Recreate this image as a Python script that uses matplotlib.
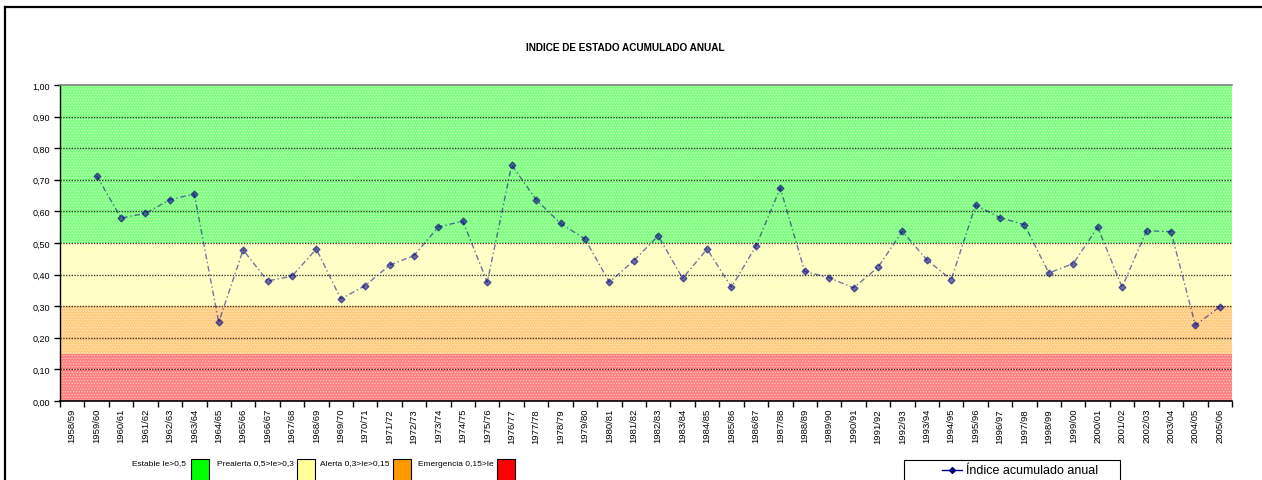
import numpy as np
import matplotlib
matplotlib.use("Agg")
import matplotlib.pyplot as plt
from matplotlib.patches import Rectangle
from matplotlib.lines import Line2D

plt.rcParams['font.family'] = ['Liberation Sans', 'DejaVu Sans']
plt.rcParams['hatch.linewidth'] = 0.6

# Hydrological years
seasons = [f"{y}/{str(y + 1)[-2:]}" for y in range(1958, 2006)]

# Accumulated annual state index (no value for the first season)
indice = [np.nan,
          0.713, 0.579, 0.594, 0.637, 0.655, 0.249, 0.478, 0.380, 0.395, 0.481,
          0.323, 0.365, 0.430, 0.460, 0.551, 0.569, 0.376, 0.747, 0.637, 0.562,
          0.513, 0.376, 0.444, 0.523, 0.388, 0.481, 0.360, 0.490, 0.674, 0.410,
          0.390, 0.358, 0.423, 0.537, 0.447, 0.384, 0.620, 0.580, 0.558, 0.405,
          0.435, 0.550, 0.360, 0.539, 0.536, 0.240, 0.298]

# Alert thresholds and their labels
band_edges = [0.0, 0.15, 0.30, 0.50, 1.00]
band_colors = ['#ff8080', '#ffcc80', '#ffffc0', '#80ff80']
band_swatch = ['#ff0000', '#ff9900', '#ffff99', '#00ff00']
band_labels = ['Emergencia 0,15>Ie', 'Alerta 0,3>Ie>0,15',
               'Prealerta 0,5>Ie>0,3', 'Estable Ie>0,5']

W, H = 1262, 481
fig = plt.figure(figsize=(W / 100, H / 100), dpi=100)

def fx(px):
    return px / W

def fy(py):
    return 1 - py / H

ax = fig.add_axes([fx(60), fy(402), fx(1232) - fx(60), fy(86) - fy(402)])

x = np.arange(len(seasons))

for lo, hi, c in zip(band_edges[:-1], band_edges[1:], band_colors):
    ax.axhspan(lo, hi, facecolor=c, edgecolor='#ffffff80', hatch='......',
               linewidth=0, zorder=0)

for yv in np.arange(0.1, 1.0, 0.1):
    ax.axhline(yv, color='black', linestyle=(0, (1, 1)), linewidth=1.0,
               alpha=0.75, zorder=1)

ax.plot(x, indice, color='#000080', linestyle=(0, (4, 2, 1, 2)), linewidth=1.0,
        marker='D', markersize=3.5, alpha=0.55, zorder=3)

ax.set_xlim(-0.5, len(seasons) - 0.5)
ax.set_ylim(0, 1.0)
ax.set_yticks(np.arange(0, 1.01, 0.1))
ax.set_yticklabels([f"{v:.2f}".replace('.', ',') for v in np.arange(0, 1.01, 0.1)],
                   fontsize=6.5)
ax.set_xticks(x)
ax.set_xticklabels(seasons, rotation=90, fontsize=6.8)
ax.set_xticks(np.arange(-0.5, len(seasons), 1.0), minor=True)
ax.tick_params(axis='x', which='major', length=0, pad=5)
ax.tick_params(axis='x', which='minor', length=4, width=1)
ax.tick_params(axis='y', length=4, width=1, pad=3)

ax.spines['right'].set_visible(False)
ax.spines['top'].set_color('#808080')
ax.spines['top'].set_linewidth(1.2)
ax.spines['bottom'].set_linewidth(1.2)
ax.spines['left'].set_linestyle((0, (1, 1)))
ax.spines['left'].set_linewidth(1.0)

fig.text(fx(625), fy(48), 'INDICE DE ESTADO ACUMULADO ANUAL', ha='center',
         va='center', fontsize=7.2, fontweight='bold')

# Outer frame of the chart area
fig.add_artist(Line2D([fx(5), fx(5)], [fy(8), fy(H + 5)], color='black', linewidth=1.6))
fig.add_artist(Line2D([fx(5), fx(W + 5)], [fy(8), fy(8)], color='black', linewidth=1.6))

# Threshold legend
legend_items = [
    (band_labels[3], band_swatch[3], 186, 191),
    (band_labels[2], band_swatch[2], 294, 297),
    (band_labels[1], band_swatch[1], 389, 393),
    (band_labels[0], band_swatch[0], 494, 497),
]
for label, col, text_right, box_left in legend_items:
    fig.text(fx(text_right), fy(464), label, ha='right', va='center', fontsize=6.0)
    fig.add_artist(Rectangle((fx(box_left), fy(490)), fx(18), fy(460) - fy(490),
                             facecolor=col, edgecolor='black', linewidth=0.8))

# Series legend box
fig.add_artist(Rectangle((fx(904), fy(495)), fx(1120) - fx(904), fy(461) - fy(495),
                         facecolor='white', edgecolor='black', linewidth=0.8))
fig.add_artist(Line2D([fx(942), fx(952), fx(962)], [fy(471)] * 3, color='#000080',
                      linewidth=1.0, marker='D', markersize=3, markevery=[1]))
fig.text(fx(966), fy(471), 'Índice acumulado anual', ha='left', va='center',
         fontsize=9)

fig.savefig('out.png', dpi=100)
